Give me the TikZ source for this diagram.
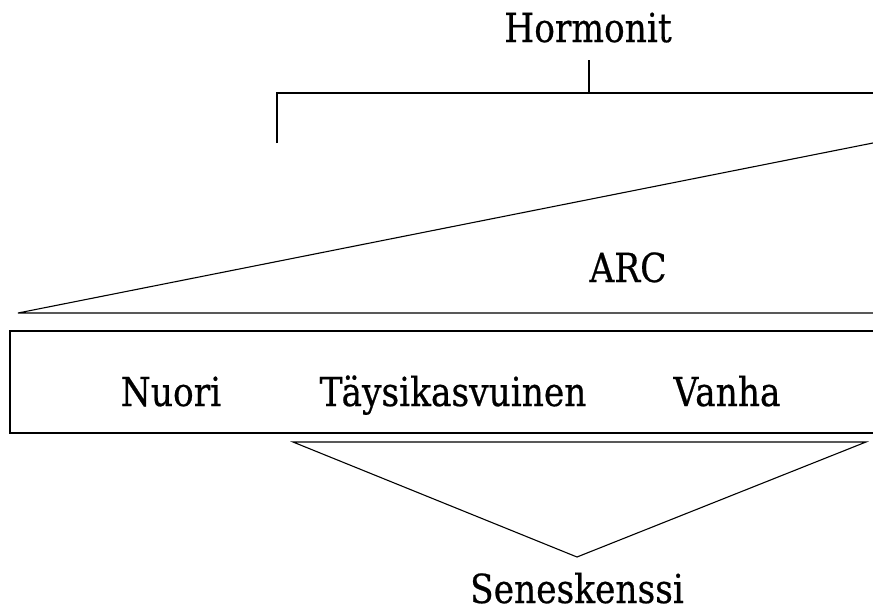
\documentclass[tikz,border=0pt]{standalone}
\usepackage{fontspec}
\setmainfont[FakeStretch=0.86,FakeBold=0.5]{DejaVu Serif}
\usetikzlibrary{positioning,calc}

\begin{document}
\begin{tikzpicture}[x=1pt,y=-1pt,line width=1.1pt,
    lbl/.style={font=\fontsize{40}{44}\selectfont,inner sep=0pt,anchor=base}]
  \clip (0,0) rectangle (873,611);

  % Hormonit and its bracket
  \node[lbl] (horm) at (588,42) {Hormonit};
  \coordinate (hstem) at (589,60);
  \coordinate (hbar) at (589,93);
  \coordinate (bl) at (277,93);
  \coordinate (br) at (880,93);
  \draw (hstem) -- (hbar);
  \draw (bl |- 0,143) -- (bl) -- (br);

  % ARC wedge
  \coordinate (wtip) at (18,313);
  \coordinate (wtop) at (880,141.6);
  \coordinate (wbot) at (880,313);
  \draw (wbot) -- (wtip) -- (wtop);
  \node[lbl] (arc) at (628,282) {ARC};

  % life stages
  \draw (10,331) rectangle (890,433);
  \node[lbl] (nuori) at (171,406) {Nuori};
  \node[lbl] (aikuinen) at (453,406) {Täysikasvuinen};
  \node[lbl] (vanha) at (727,406) {Vanha};

  % Seneskenssi funnel
  \coordinate (fl) at (293,442);
  \coordinate (fr) at (866,442);
  \coordinate (fa) at (577,557);
  \draw (fl) -- (fr) -- (fa) -- cycle;
  \node[lbl] (sen) at (577,603) {Seneskenssi};
\end{tikzpicture}
\end{document}
